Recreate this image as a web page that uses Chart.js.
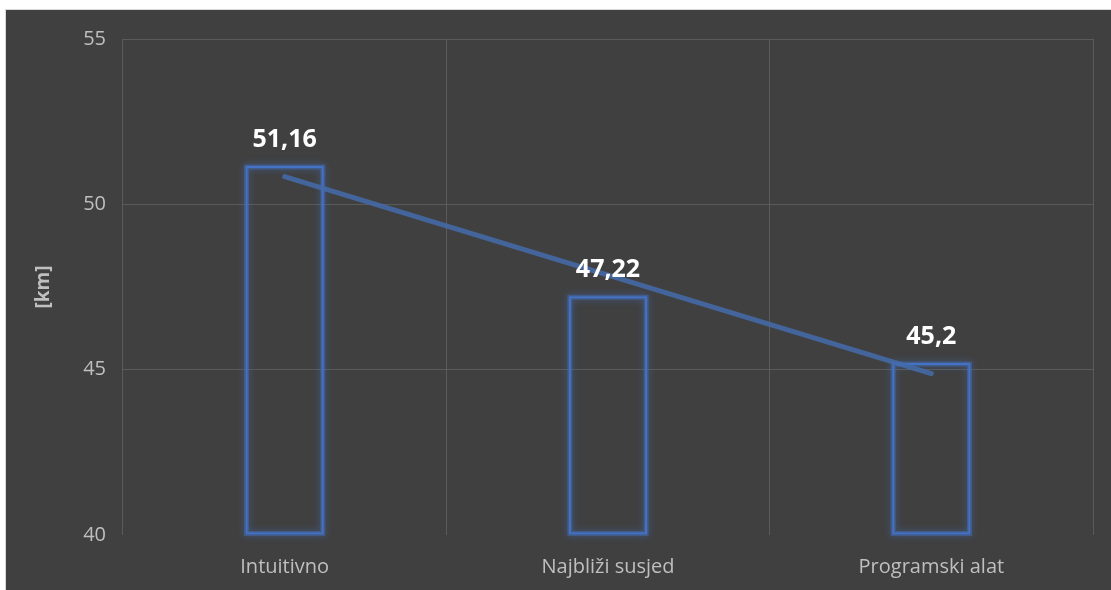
<!DOCTYPE html>
<html>
<head>
<meta charset="utf-8">
<script src="https://cdn.jsdelivr.net/npm/chart.js@4/dist/chart.umd.min.js"></script>
<style>
  html, body { margin: 0; padding: 0; background: #fff; }
  #wrap { position: absolute; left: 5px; top: 9px; width: 1106px; height: 581px;
          background: #404040; border-left: 1px solid #d9d9d9; border-top: 1px solid #d9d9d9; }
  canvas { display: block; }
</style>
</head>
<body>
<div id="wrap"><canvas id="chart" width="1105" height="580"></canvas></div>
<script>
/* Data */
const categories = ['Intuitivno', 'Najbliži susjed', 'Programski alat'];
const distances = [51.16, 47.22, 45.2];
const trend = [50.84, 47.86, 44.88];   // linear trendline
const yTicks = [40, 45, 50, 55];
const axisMin = 40;

const FONT = '"Open Sans", "DejaVu Sans", sans-serif';
const fmt = (n) => String(n).replace('.', ',');

/* soft glow around bar outlines (drawn under the bars, from the bar elements) */
const glowPlugin = {
  id: 'glow',
  beforeDatasetsDraw(chart) {
    const ctx = chart.ctx;
    const meta = chart.getDatasetMeta(0);
    ctx.save();
    ctx.shadowColor = '#4472c4';
    ctx.shadowBlur = 7;
    ctx.strokeStyle = 'rgba(68,114,196,0.45)';
    ctx.lineWidth = 5;
    meta.data.forEach(bar => {
      const w = bar.width;
      ctx.strokeRect(bar.x - w / 2 + 1, bar.y + 1, w - 2, bar.base - bar.y - 2);
    });
    ctx.restore();
  }
};

/* value labels above bars */
const labelPlugin = {
  id: 'valueLabels',
  afterDatasetsDraw(chart) {
    const ctx = chart.ctx;
    const meta = chart.getDatasetMeta(0);
    ctx.save();
    ctx.fillStyle = '#ffffff';
    ctx.font = 'bold 25px ' + FONT;
    ctx.textAlign = 'center';
    ctx.textBaseline = 'middle';
    meta.data.forEach((bar, i) => {
      ctx.fillText(fmt(distances[i]), bar.x, bar.y - 26);
    });
    ctx.restore();
  }
};

new Chart(document.getElementById('chart'), {
  data: {
    labels: categories,
    datasets: [
      {
        type: 'bar', data: distances, order: 2, base: axisMin,
        backgroundColor: 'rgba(0,0,0,0)', borderColor: '#4472c4', borderWidth: 2,
        borderSkipped: false,
        barPercentage: 0.242, categoryPercentage: 1
      },
      {
        type: 'line', data: trend, order: 1,
        borderColor: 'rgba(68,108,172,0.85)', borderWidth: 5, borderCapStyle: 'round',
        pointRadius: 0, tension: 0
      }
    ]
  },
  options: {
    responsive: false,
    animation: false,
    layout: { padding: { left: 0, top: 29, right: 18, bottom: 0 } },
    plugins: { legend: { display: false }, tooltip: { enabled: false } },
    scales: {
      x: {
        grid: { offset: true, color: '#5a5a5a', lineWidth: 1, drawTicks: false },
        border: { display: false },
        ticks: { color: '#bfbfbf', font: { family: FONT, size: 20 }, padding: 20 },
        afterFit: (s) => { s.height = 55; }
      },
      y: {
        min: axisMin, max: 55,
        afterBuildTicks: (s) => { s.ticks = yTicks.map(v => ({ value: v })); },
        grid: { color: (c) => c.tick && c.tick.value === axisMin ? 'rgba(0,0,0,0)' : '#5a5a5a', drawTicks: false },
        border: { display: false },
        ticks: { color: '#bfbfbf', font: { family: FONT, size: 20 }, padding: 17 },
        title: { display: true, text: '[km]', color: '#bfbfbf', font: { family: FONT, size: 19, weight: 'bold' }, padding: { top: 26 } },
        afterFit: (s) => { s.width = 117; }
      }
    }
  },
  plugins: [glowPlugin, labelPlugin]
});
</script>
</body>
</html>
